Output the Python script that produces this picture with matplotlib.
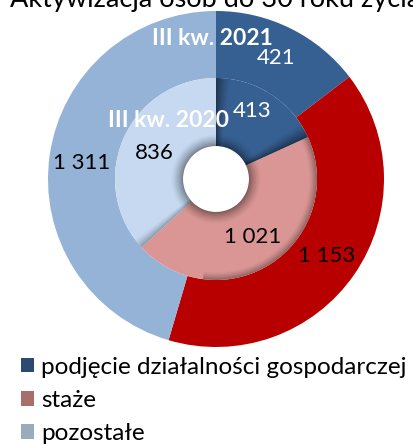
import numpy as np
import matplotlib.pyplot as plt
from matplotlib.patches import Patch, Wedge

plt.rcParams['font.family'] = ['Lato', 'DejaVu Sans']

kategorie = ["podjęcie działalności gospodarczej", "staże", "pozostałe"]
kw_2021 = [421, 1153, 1311]
kw_2020 = [413, 1021, 836]
etyk_2021 = ["421", "1 153", "1 311"]
etyk_2020 = ["413", "1 021", "836"]

kolory_2021 = ["#376092", "#B90000", "#95B3D7"]
kolory_2020 = ["#376092", "#D99694", "#C6D9F1"]
kolory_leg = ["#2A4A72", "#A86E6C", "#9BAABC"]

W, H = 413, 444
fig = plt.figure(figsize=(W / 100, H / 100), dpi=100)
ax = fig.add_axes([0, 0, 1, 1])

cx, cy = 216, H - 179
R_zew, R_wew, R_dziura = 168, 101, 33

ax.pie(kw_2021, radius=R_zew, center=(cx, cy), startangle=90, counterclock=False,
       colors=kolory_2021, wedgeprops=dict(width=R_zew - R_wew, linewidth=0))
ax.pie(kw_2020, radius=R_wew, center=(cx, cy), startangle=90, counterclock=False,
       colors=kolory_2020, wedgeprops=dict(width=R_wew - R_dziura, linewidth=0))
ax.set_xlim(0, W)
ax.set_ylim(0, H)
ax.set_aspect("equal")
ax.axis("off")

# cieniowanie wewnętrznego pierścienia (efekt fazowania)
granice = 90 - 360 * np.cumsum([0] + kw_2020) / sum(kw_2020)
kroki = 10


def cien_kat(kat, kierunek, rozpietosc=9, alfa=0.45):
    for i in range(kroki):
        a1 = kat + kierunek * rozpietosc * i / kroki
        a2 = kat + kierunek * rozpietosc * (i + 1) / kroki
        ax.add_patch(Wedge((cx, cy), R_wew, min(a1, a2), max(a1, a2),
                           width=R_wew - R_dziura, color="black", lw=0,
                           alpha=alfa * (1 - i / kroki) ** 1.5))


def cien_promien(r, kierunek, t1, t2, grubosc=12, alfa=0.45):
    for i in range(kroki):
        r_a = r + kierunek * grubosc * i / kroki
        r_b = r + kierunek * grubosc * (i + 1) / kroki
        ax.add_patch(Wedge((cx, cy), max(r_a, r_b), t1, t2, width=abs(r_b - r_a),
                           color="black", lw=0, alpha=alfa * (1 - i / kroki) ** 1.5))


cien_kat(granice[1], 1)          # dolna krawędź pierwszego wycinka
cien_kat(granice[3] + 360, -1)   # górna krawędź ostatniego wycinka
cien_kat(granice[2], -1, 6, 0.3)
cien_promien(R_dziura, 1, 0, 360, 12, 0.4)
cien_promien(R_wew, -1, granice[2] + 40, granice[1], 8, 0.35)

# etykiety wartości (pozycje w pikselach od góry)
poz_2021 = [(276, 58), (327, 256), (82, 163)]
poz_2020 = [(252, 111), (253, 237), (154, 153)]
kol_txt = ["white", "black", "black"]
for (x, y), t, c in zip(poz_2021, etyk_2021, kol_txt):
    ax.text(x, H - y, t, ha="center", va="center", fontsize=16, color=c)
for (x, y), t, c in zip(poz_2020, etyk_2020, kol_txt):
    ax.text(x, H - y, t, ha="center", va="center", fontsize=16, color=c)

ax.text(212, H - 38, "III kw. 2021", ha="center", va="center", fontsize=16.5,
        fontweight="bold", color="white")
ax.text(169, H - 120, "III kw. 2020", ha="center", va="center", fontsize=16.5,
        fontweight="bold", color="white")

fig.text(10 / W, 1 - 7 / H, "Aktywizacja osób do 30 roku życia", ha="left",
         va="baseline", fontsize=19.5)

uchwyty = [Patch(facecolor=k, edgecolor="none") for k in kolory_leg]
fig.legend(uchwyty, kategorie, loc="upper left", bbox_to_anchor=(11 / W, 1 - 347 / H),
           frameon=False, fontsize=17.5, handlelength=0.55, handleheight=0.55,
           handletextpad=0.3, labelspacing=0.5, borderaxespad=0)

fig.savefig("out.png", dpi=100)
